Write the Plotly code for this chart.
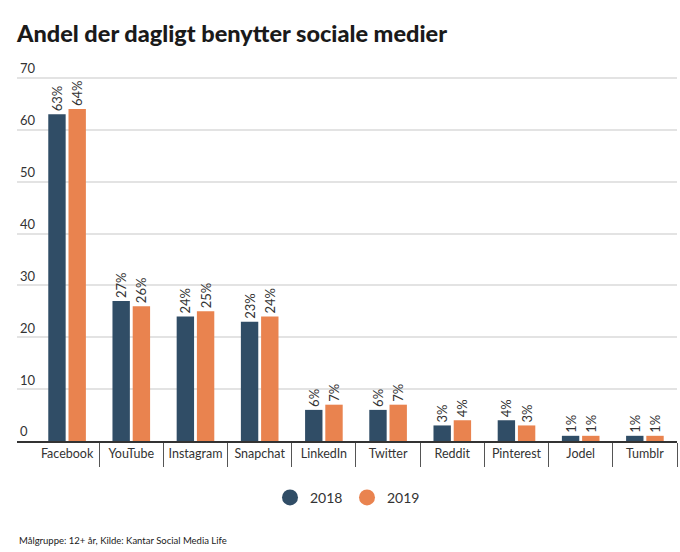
import plotly.graph_objects as go

# Data
platforms = ["Facebook", "YouTube", "Instagram", "Snapchat", "LinkedIn",
             "Twitter", "Reddit", "Pinterest", "Jodel", "Tumblr"]
values_2018 = [63, 27, 24, 23, 6, 6, 3, 4, 1, 1]
values_2019 = [64, 26, 25, 24, 7, 7, 4, 3, 1, 1]

blue = "#304d66"
orange = "#e9834f"
font_family = "Lato, Open Sans, sans-serif"

fig = go.Figure()

for name, vals, color in [("2018", values_2018, blue), ("2019", values_2019, orange)]:
    fig.add_trace(go.Bar(
        x=platforms,
        y=vals,
        name=name,
        marker=dict(color=color, line=dict(width=0)),
        text=[f"{v}%" for v in vals],
        textposition="outside",
        textangle=-90,
        constraintext="none",
        textfont=dict(size=13, color="#333333", family=font_family),
        cliponaxis=False,
        showlegend=False,
    ))

# Legend entries as circles
for name, color in [("2018", blue), ("2019", orange)]:
    fig.add_trace(go.Scatter(
        x=[None], y=[None],
        mode="markers",
        name=name,
        marker=dict(color=color, size=16, symbol="circle"),
    ))

# plot area: 70-line at y=78px, baseline at y=441px
fig.update_layout(
    width=680,
    height=552,
    margin=dict(l=17, r=3, t=52, b=111),
    paper_bgcolor="white",
    plot_bgcolor="white",
    barmode="group",
    bargap=0.37,
    bargroupgap=0.14,
    font=dict(family=font_family, color="#333333"),
    title=dict(
        text="Andel der dagligt benytter sociale medier",
        x=0.025, xanchor="left",
        y=0.938, yanchor="middle",
        font=dict(size=23.5, color="#1a1a1a", family="Lato, sans-serif", weight=900),
    ),
    legend=dict(
        orientation="h",
        x=0.5, xanchor="center",
        y=-0.146, yanchor="middle",
        font=dict(size=14, color="#333333"),
        itemwidth=30,
        entrywidth=32,
        entrywidthmode="pixels",
    ),
    annotations=[dict(
        text="Målgruppe: 12+ år, Kilde: Kantar Social Media Life",
        xref="paper", yref="paper",
        x=0, y=-0.256, xanchor="left", yanchor="middle",
        showarrow=False,
        font=dict(size=9.5, color="#1a1a1a"),
    )],
)

fig.update_xaxes(
    range=[-0.78, 9.5],
    automargin=False,
    showline=True, linecolor="#333333", linewidth=2,
    ticks="outside", tickson="boundaries", ticklen=24,
    tickcolor="#555555", tickwidth=1,
    tickangle=0,
    tickfont=dict(size=12.5, color="#333333"),
    showgrid=False,
)

fig.update_yaxes(
    range=[0, 75],
    tickvals=[0, 10, 20, 30, 40, 50, 60, 70],
    automargin=False,
    showgrid=True, gridcolor="#e3e3e3", gridwidth=2,
    zeroline=False,
    ticklabelposition="inside top",
    tickfont=dict(size=13, color="#333333"),
)

fig.write_html("out.html", config={"displayModeBar": False},
               post_script="document.body.style.margin='0';")
